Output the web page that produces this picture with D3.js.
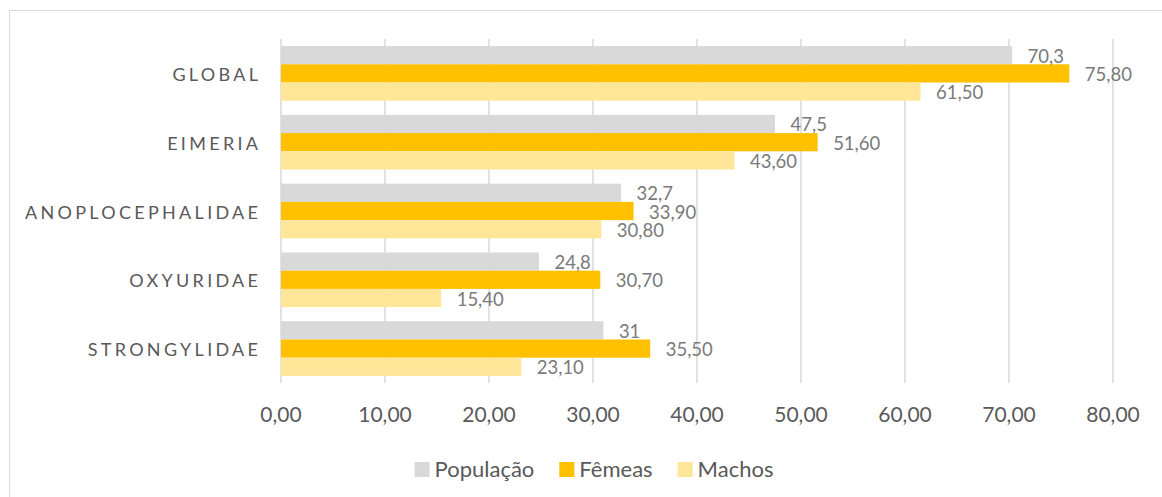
<!DOCTYPE html>
<html>
<head>
<meta charset="utf-8">
<script src="https://cdn.jsdelivr.net/npm/d3@7"></script>
<style>
  html, body { margin: 0; padding: 0; background: #fff; }
  svg { display: block; }
  text { font-family: Lato, "Noto Sans", sans-serif; }
</style>
</head>
<body>
<svg id="chart" width="1162" height="497"></svg>
<script>
const categories = ["GLOBAL", "EIMERIA", "ANOPLOCEPHALIDAE", "OXYURIDAE", "STRONGYLIDAE"];
const seriesNames = ["População", "Fêmeas", "Machos"];
const populacao = [70.3, 47.5, 32.7, 24.8, 31];
const femeas = [75.8, 51.6, 33.9, 30.7, 35.5];
const machos = [61.5, 43.6, 30.8, 15.4, 23.1];
const populacaoLabels = ["70,3", "47,5", "32,7", "24,8", "31"];
const femeasLabels = ["75,80", "51,60", "33,90", "30,70", "35,50"];
const machosLabels = ["61,50", "43,60", "30,80", "15,40", "23,10"];
const xTicks = [0, 10, 20, 30, 40, 50, 60, 70, 80];
const xTickLabels = ["0,00", "10,00", "20,00", "30,00", "40,00", "50,00", "60,00", "70,00", "80,00"];

const colors = ["#d9d9d9", "#ffc000", "#ffe699"];
const seriesValues = [populacao, femeas, machos];
const seriesLabels = [populacaoLabels, femeasLabels, machosLabels];

const svg = d3.select("#chart");

// chart area border
svg.append("rect")
  .attr("x", 9.5).attr("y", 10.5)
  .attr("width", 1300).attr("height", 700)
  .attr("fill", "#fff").attr("stroke", "#d9d9d9").attr("stroke-width", 1);

const plot = { left: 281, right: 1113, top: 39, bottom: 383 };

const x = d3.scaleLinear().domain([0, 80]).range([plot.left, plot.right]);
const y = d3.scaleBand().domain(categories).range([plot.top, plot.bottom])
  .paddingInner(0.205).paddingOuter(0.1025);
const ySub = d3.scaleBand().domain(seriesNames).range([0, y.bandwidth()]).padding(0);

// gridlines
svg.append("g").selectAll("line").data(xTicks).join("line")
  .attr("x1", d => x(d)).attr("x2", d => x(d))
  .attr("y1", plot.top).attr("y2", plot.bottom)
  .attr("stroke", "#d9d9d9").attr("stroke-width", 1.5);

// bars
const rows = [];
categories.forEach((c, i) => {
  seriesNames.forEach((s, j) => {
    rows.push({ cat: c, series: s, value: seriesValues[j][i], label: seriesLabels[j][i], color: colors[j] });
  });
});

svg.append("g").selectAll("rect").data(rows).join("rect")
  .attr("x", x(0))
  .attr("y", d => y(d.cat) + ySub(d.series))
  .attr("width", d => x(d.value) - x(0))
  .attr("height", ySub.bandwidth())
  .attr("fill", d => d.color);

// data labels
svg.append("g").selectAll("text").data(rows).join("text")
  .attr("x", d => x(d.value) + 15.5)
  .attr("y", d => y(d.cat) + ySub(d.series) + ySub.bandwidth() / 2 + 7.5)
  .attr("font-size", 18.5)
  .attr("fill", "#7a7a7a")
  .text(d => d.label);

// category labels
const ls = 3.3;
svg.append("g").selectAll("text").data(categories).join("text")
  .attr("x", 258 + ls)
  .attr("y", d => y(d) + y.bandwidth() / 2 + 7.5)
  .attr("text-anchor", "end")
  .attr("font-size", 18)
  .attr("letter-spacing", ls)
  .attr("fill", "#595959")
  .text(d => d);

// x axis tick labels
svg.append("g").selectAll("text").data(xTicks).join("text")
  .attr("x", d => x(d))
  .attr("y", 421.5)
  .attr("text-anchor", "middle")
  .attr("font-size", 21)
  .attr("fill", "#595959")
  .text((d, i) => xTickLabels[i]);

// legend
const legend = svg.append("g");
const sq = 15, gapText = 5, gapItem = 25;
let cx = 0;
seriesNames.forEach((s, i) => {
  const g = legend.append("g");
  g.append("rect").attr("x", 0).attr("y", 462).attr("width", sq).attr("height", sq).attr("fill", colors[i]);
  const t = g.append("text").attr("x", sq + gapText).attr("y", 477)
    .attr("font-size", 22).attr("fill", "#595959").text(s);
  const w = t.node().getComputedTextLength();
  g.attr("transform", `translate(${cx},0)`);
  cx += sq + gapText + w + gapItem;
});
const totalW = cx - gapItem;
legend.attr("transform", `translate(${594 - totalW / 2},0)`);
</script>
</body>
</html>
